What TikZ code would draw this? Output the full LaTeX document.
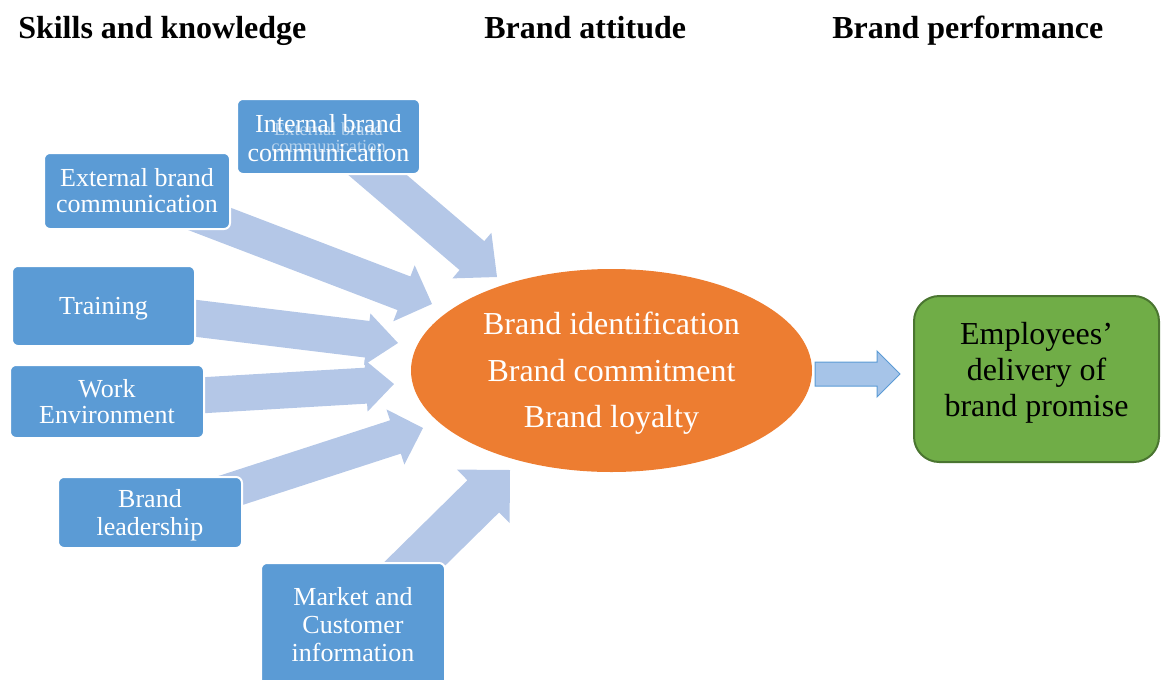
\documentclass[tikz,border=0pt]{standalone}
\usepackage{fontspec}
\setmainfont{Liberation Serif}
\usetikzlibrary{calc,shapes.geometric}
\definecolor{boxblue}{HTML}{5B9BD5}
\definecolor{arrowblue}{HTML}{B4C7E7}
\definecolor{orng}{HTML}{ED7D31}
\definecolor{grn}{HTML}{70AD47}
\definecolor{grnborder}{HTML}{4A7530}
\definecolor{smallarrow}{HTML}{A6C4E8}

% #1 style, #2 start, #3 tip, #4 shaft half width, #5 head half width, #6 head length (px)
\newcommand\blockarrow[6]{%
  \path ($(#3)!#6*0.75pt!(#2)$) coordinate (ba-b);
  \path[#1] ($(#2)!#4*0.75pt!90:(#3)$) -- ($(ba-b)!#4*0.75pt!90:(#3)$)
    -- ($(ba-b)!#5*0.75pt!90:(#3)$) -- (#3)
    -- ($(ba-b)!#5*0.75pt!-90:(#3)$) -- ($(ba-b)!#4*0.75pt!-90:(#3)$)
    -- ($(#2)!#4*0.75pt!-90:(#3)$) -- cycle;
}

\begin{document}
\begin{tikzpicture}[x=0.75pt,y=-0.75pt,
  bbox/.style={rectangle, rounded corners=4.5pt, fill=boxblue, draw=white,
    line width=1.5pt, inner sep=0pt},
  btext/.style={text=white, align=center, inner sep=0pt,
    font=\fontsize{19.5}{20}\selectfont},
  title/.style={anchor=base west, inner sep=0pt, font=\fontsize{24}{28}\selectfont\bfseries},
  bigarrow/.style={fill=arrowblue},
  thinarrow/.style={fill=smallarrow, draw=boxblue, line width=0.75pt, line join=miter}]
\useasboundingbox (0,0) rectangle (1161,679);
\clip (0,0) rectangle (1161,679);

% titles
\node[title] (t1) at (18,38.5) {Skills and knowledge};
\node[title] (t2) at (484,38.5) {Brand attitude};
\node[title] (t3) at (832,38.5) {Brand performance};

% arrow end points
\coordinate (s1) at (360,160); \coordinate (e1) at (497,277);
\coordinate (s2) at (160,200); \coordinate (e2) at (432,304);
\coordinate (s3) at (185,317); \coordinate (e3) at (398,343);
\coordinate (s4) at (190,396); \coordinate (e4) at (394,384);
\coordinate (s5) at (195,502); \coordinate (e5) at (423,428);
\coordinate (s6) at (380,598); \coordinate (e6) at (510,470);

\blockarrow{bigarrow}{s1}{e1}{19}{30}{33}
\blockarrow{bigarrow}{s2}{e2}{18}{30}{30}
\blockarrow{bigarrow}{s3}{e3}{18.4}{26}{31}
\blockarrow{bigarrow}{s4}{e4}{18}{26}{28}
\blockarrow{bigarrow}{s5}{e5}{17.5}{29}{29}
\blockarrow{bigarrow}{s6}{e6}{22.6}{37.5}{37.5}

% source boxes
\node[bbox, minimum width=137.25pt, minimum height=56.25pt,
  label={[btext, font=\fontsize{19.5}{21.75}\selectfont, yshift=-1.5pt]center:Internal brand\\communication}]
  (int) at (328.5,136.5) {};
\node[align=center, inner sep=0pt, text=white, opacity=0.55,
  font=\fontsize{13.8}{12.75}\selectfont] (intover) at (328.5,137.5) {External brand\\communication};
\node[bbox, minimum width=139.5pt, minimum height=57pt,
  label={[btext, yshift=0.4pt]center:External brand\\communication}] (ext) at (137,191) {};
\node[bbox, minimum width=137.25pt, minimum height=60pt,
  label={[btext, yshift=-2.25pt]center:Training}] (trn) at (103.5,306) {};
\node[bbox, minimum width=145.5pt, minimum height=54.75pt,
  label={[btext]center:Work\\Environment}] (wrk) at (107,401.5) {};
\node[bbox, minimum width=138pt, minimum height=53.25pt,
  label={[btext, font=\fontsize{19.5}{21}\selectfont, yshift=-2.25pt]center:Brand\\leadership}]
  (ldr) at (150,512.5) {};
\node[bbox, minimum width=138pt, minimum height=95.25pt,
  label={[btext, font=\fontsize{19.5}{21}\selectfont, yshift=1.5pt]center:Market and\\Customer\\information}]
  (mkt) at (353,626.5) {};

% central ellipse
\node[ellipse, fill=orng, inner sep=0pt, minimum width=300.75pt, minimum height=152.25pt,
  label={[text=white, align=center, inner sep=0pt, font=\fontsize{24}{35}\selectfont, yshift=-2.25pt]center:Brand identification\\Brand commitment\\Brand loyalty}]
  (ell) at (611.5,370.5) {};

% outcome box
\node[rectangle, rounded corners=19pt, fill=grn, draw=grnborder, line width=1.5pt,
  minimum width=183.75pt, minimum height=124.5pt, inner sep=0pt,
  label={[align=center, inner sep=0pt, font=\fontsize{24}{27}\selectfont, yshift=4.5pt]center:Employees'\\delivery of\\brand promise}]
  (out) at (1036.5,379) {};

% small arrow
\coordinate (s7) at (815,374); \coordinate (e7) at (900,374);
\blockarrow{thinarrow}{s7}{e7}{12}{23}{23}
\end{tikzpicture}
\end{document}
